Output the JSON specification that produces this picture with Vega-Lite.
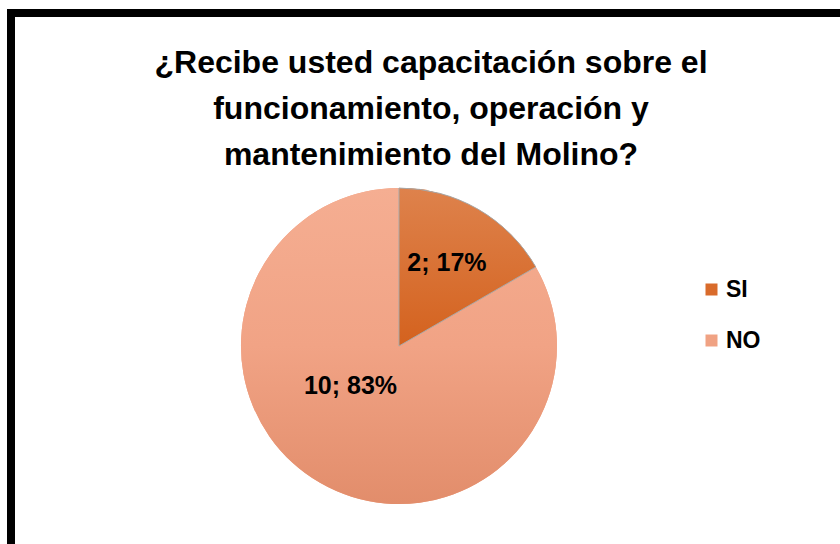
{
  "$schema": "https://vega.github.io/schema/vega-lite/v6.json",
  "width": 834,
  "height": 536,
  "autosize": {"type": "none"},
  "padding": {"left": 11, "top": 13, "right": -5, "bottom": -5},
  "background": "white",
  "config": {
    "view": {"stroke": "black", "strokeWidth": 8, "fill": "white"}
  },
  "title": {
    "text": ["¿Recibe usted capacitación sobre el", "funcionamiento, operación y", "mantenimiento del Molino?"],
    "font": "Liberation Sans",
    "fontSize": 32,
    "fontWeight": "bold",
    "color": "black",
    "anchor": "middle",
    "frame": "group",
    "baseline": "alphabetic",
    "lineHeight": 46,
    "offset": -184,
    "dx": 3
  },
  "data": {
    "values": [
      {"pregunta": "Capacitación Molino", "respuesta": "SI", "cantidad": 2, "etiqueta": "2; 17%"},
      {"pregunta": "Capacitación Molino", "respuesta": "NO", "cantidad": 10, "etiqueta": "10; 83%"}
    ]
  },
  "encoding": {
    "x": {"field": "pregunta", "type": "nominal", "scale": {"type": "point", "align": 0.4652}, "axis": null},
    "y": {"field": "pregunta", "type": "nominal", "scale": {"type": "point", "align": 0.6213}, "axis": null},
    "theta": {"field": "cantidad", "type": "quantitative", "stack": true},
    "order": {"field": "respuesta", "sort": "descending"}
  },
  "layer": [
    {
      "mark": {"type": "arc", "radius": 158},
      "encoding": {
        "color": {
          "field": "respuesta",
          "type": "nominal",
          "scale": {"domain": ["SI", "NO"], "range": ["#D96B2B", "#F0A283"]},
          "legend": {
            "title": null,
            "orient": "none",
            "legendX": 689,
            "legendY": 265,
            "symbolType": "square",
            "symbolSize": 144,
            "symbolStrokeWidth": 0,
            "labelFont": "Liberation Sans",
            "labelFontSize": 23,
            "labelFontWeight": "bold",
            "labelColor": "black",
            "labelOffset": 3,
            "rowPadding": 27,
            "padding": 0
          }
        }
      }
    },
    {
      "mark": {
        "type": "arc",
        "radius": 158,
        "fill": {
          "gradient": "linear", "x1": 0, "y1": 0, "x2": 0, "y2": 1,
          "stops": [{"offset": 0, "color": "#F5AE92"}, {"offset": 0.5, "color": "#F1A385"}, {"offset": 1, "color": "#E28D6B"}]
        }
      },
      "encoding": {
        "opacity": {"condition": {"test": "datum.respuesta === 'NO'", "value": 1}, "value": 0}
      }
    },
    {
      "mark": {
        "type": "arc",
        "radius": 158,
        "stroke": "#A8A8A8",
        "strokeWidth": 1,
        "fill": {
          "gradient": "linear", "x1": 0, "y1": 0, "x2": 0, "y2": 1,
          "stops": [{"offset": 0, "color": "#DE824C"}, {"offset": 1, "color": "#D4621E"}]
        }
      },
      "encoding": {
        "opacity": {"condition": {"test": "datum.respuesta === 'SI'", "value": 1}, "value": 0}
      }
    },
    {
      "mark": {"type": "text", "radius": 96, "font": "Liberation Sans", "fontSize": 25, "fontWeight": "bold", "color": "black"},
      "encoding": {
        "text": {"condition": {"test": "datum.respuesta === 'SI'", "field": "etiqueta"}, "value": ""}
      }
    },
    {
      "mark": {"type": "text", "radius": 63, "dx": -17, "dy": -15, "font": "Liberation Sans", "fontSize": 25, "fontWeight": "bold", "color": "black"},
      "encoding": {
        "text": {"condition": {"test": "datum.respuesta === 'NO'", "field": "etiqueta"}, "value": ""}
      }
    }
  ]
}
